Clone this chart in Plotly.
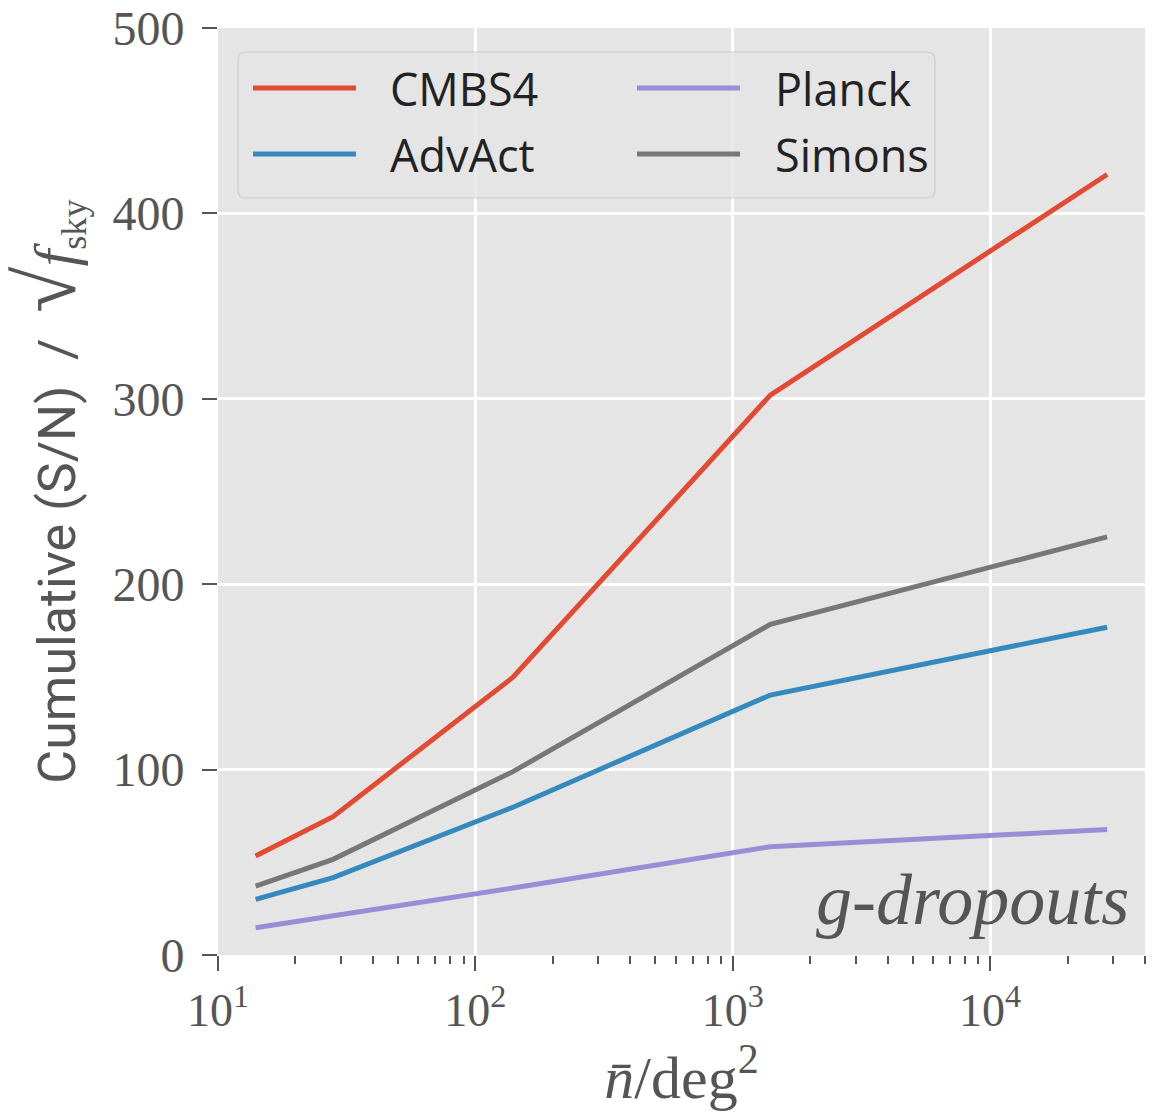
import plotly.graph_objects as go

# ---------------- data ----------------
n_bar = [14, 28, 140, 1400, 28500]
cmbs4 = [53.4, 74.6, 149.8, 302.0, 421.0]
advact = [30.0, 41.7, 79.7, 140.2, 176.8]
planck = [14.7, 21.0, 36.1, 58.4, 67.7]
simons = [37.2, 51.6, 98.9, 178.4, 225.5]

series_names = ["CMBS4", "AdvAct", "Planck", "Simons"]
series_values = [cmbs4, advact, planck, simons]
series_colors = ["#E24A33", "#348ABD", "#988ED5", "#777777"]

x_major = [10, 100, 1000, 10000]
x_major_text = ["10<sup>1</sup>", "10<sup>2</sup>", "10<sup>3</sup>", "10<sup>4</sup>"]
y_ticks = [0, 100, 200, 300, 400, 500]

# ---------------- figure ----------------
W, H = 1174, 1113
L, R, T, B = 218, 29, 28, 158
pw, ph = W - L - R, H - T - B

def px_x(p):
    return (p - L) / pw

def px_y(p):
    return (H - B - p) / ph

fig = go.Figure()
for name, vals, col in zip(series_names, series_values, series_colors):
    fig.add_trace(go.Scatter(x=n_bar, y=vals, mode="lines", name=name,
                             line=dict(color=col, width=5), showlegend=False))

minor_vals = [m * 10 ** e for e in range(1, 5) for m in range(2, 10)]

serif = "Liberation Serif, DejaVu Serif, serif"
tick_col = "#555555"

ytitle = ("Cumulative (S/N)  /  "
          "<span style=\"font-family:Liberation Serif;font-size:84px\">\u221A</span>"
          "<span style=\"font-family:Liberation Serif;font-size:60px\"><i>f</i></span>"
          "<span style=\"font-family:Liberation Serif\"><sub>sky</sub></span>")

fig.update_layout(
    width=W, height=H,
    margin=dict(l=L, r=R, t=T, b=B, autoexpand=False),
    paper_bgcolor="white",
    plot_bgcolor="#E5E5E5",
    xaxis=dict(
        type="log", range=[1, 4.602],
        tickvals=x_major, ticktext=x_major_text,
        ticks="outside", ticklen=15, tickwidth=2, tickcolor=tick_col,
        showgrid=True, gridcolor="white", gridwidth=2.5,
        zeroline=False, showline=False, automargin=False,
        tickfont=dict(family=serif, size=46, color=tick_col),
        minor=dict(tickvals=minor_vals, ticks="outside", ticklen=8,
                   tickwidth=1.5, tickcolor=tick_col, showgrid=False),
        title=dict(text="<i>n\u0304</i>/deg<sup>2</sup>",
                   font=dict(family=serif, size=60, color=tick_col), standoff=14),
    ),
    yaxis=dict(
        range=[0, 500], tickvals=y_ticks,
        ticks="outside", ticklen=15, tickwidth=2, tickcolor=tick_col,
        ticklabelstandoff=8,
        showgrid=True, gridcolor="white", gridwidth=2.5,
        zeroline=False, showline=False, automargin=False,
        tickfont=dict(family=serif, size=48, color=tick_col),
        title=dict(
            text=ytitle,
            font=dict(family="Liberation Sans Narrow, Roboto, sans-serif", size=52, color=tick_col),
            standoff=26),
    ),
)

# ---------------- legend (drawn to match matplotlib style) ----------------
x0, x1 = px_x(238), px_x(935)
y0, y1 = px_y(198), px_y(52)
rx, ry = 8 / pw, 8 / ph
path = (f"M {x0+rx},{y1} L {x1-rx},{y1} Q {x1},{y1} {x1},{y1-ry} "
        f"L {x1},{y0+ry} Q {x1},{y0} {x1-rx},{y0} L {x0+rx},{y0} "
        f"Q {x0},{y0} {x0},{y0+ry} L {x0},{y1-ry} Q {x0},{y1} {x0+rx},{y1} Z")
fig.add_shape(type="path", path=path, xref="paper", yref="paper",
              fillcolor="rgba(229,229,229,0.8)", line=dict(color="#CCCCCC", width=1.2),
              layer="above")

legend_pos = {
    "CMBS4": (253, 356, 388, 88),
    "AdvAct": (253, 356, 388, 154),
    "Planck": (637, 740, 773, 88),
    "Simons": (637, 740, 773, 154),
}
for name, col in zip(series_names, series_colors):
    lx0, lx1, tx, ly = legend_pos[name]
    fig.add_shape(type="line", xref="paper", yref="paper",
                  x0=px_x(lx0), x1=px_x(lx1), y0=px_y(ly), y1=px_y(ly),
                  line=dict(color=col, width=5), layer="above")
    fig.add_annotation(text=name, xref="paper", yref="paper",
                       x=px_x(tx), y=px_y(ly), xanchor="left", yanchor="middle",
                       showarrow=False,
                       font=dict(family="Open Sans, sans-serif", size=45, color="#222222"))

fig.add_annotation(text="<i>g-dropouts</i>", xref="paper", yref="paper",
                   x=px_x(1131), y=px_y(900), xanchor="right", yanchor="middle",
                   showarrow=False,
                   font=dict(family=serif, size=72, color="#555555"))

fig.write_html("out.html", post_script="document.body.style.margin='0';",
               config={"displayModeBar": False})
